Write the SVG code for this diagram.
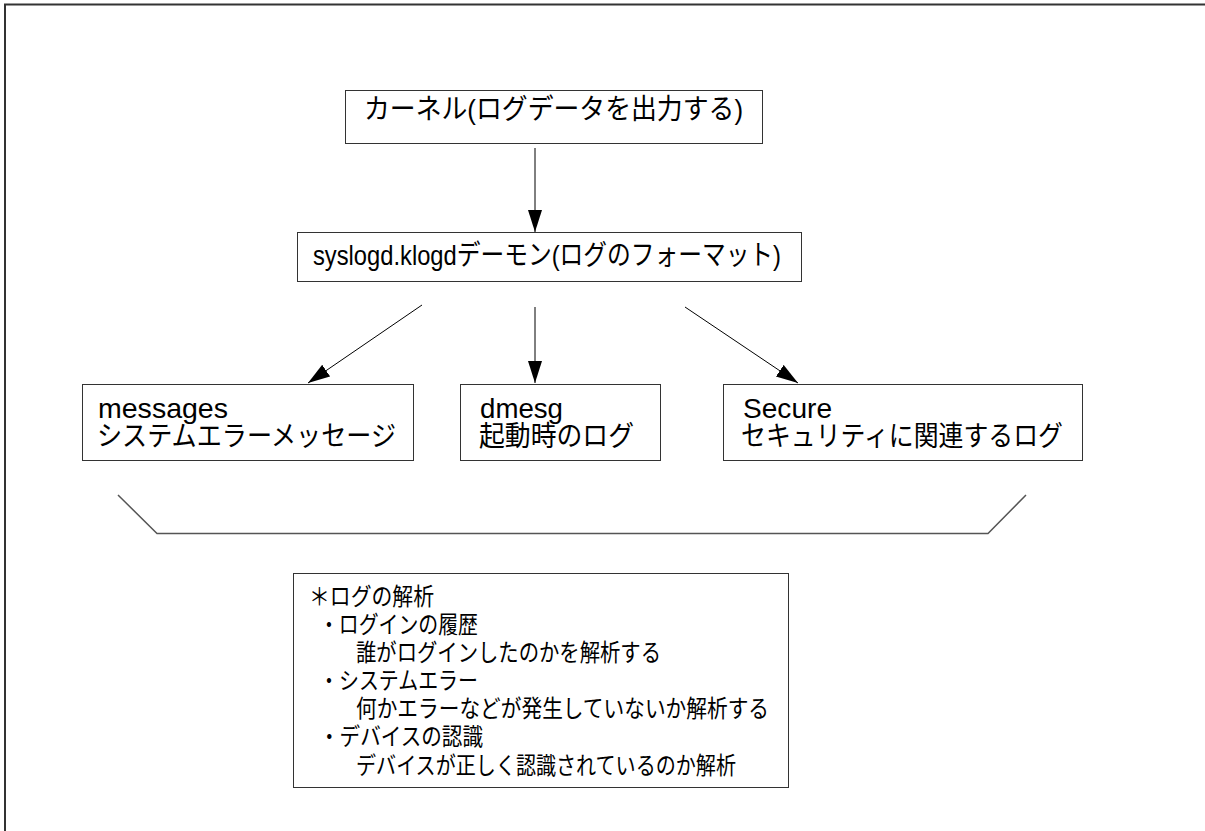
<svg xmlns="http://www.w3.org/2000/svg" width="1205" height="831" viewBox="0 0 1205 831">
<style>
.box{fill:#fff;stroke:#333;stroke-width:1}
.t{font-family:"Liberation Sans","Noto Sans CJK JP",sans-serif;font-size:28px;fill:#000}
.s{font-family:"Liberation Sans","Noto Sans CJK JP",sans-serif;font-size:24px;fill:#000}
.c{stroke:#000;stroke-width:1;fill:none}
.frame{stroke:#333;stroke-width:2;fill:none}
.br{stroke:#555;stroke-width:1.5;fill:none}
</style>
<defs>
<marker id="ah" markerUnits="userSpaceOnUse" markerWidth="23" markerHeight="15" refX="22" refY="7" orient="auto">
<path d="M0,0 L22,7 L0,14 z" fill="#000"/>
</marker>
</defs>
<rect width="1205" height="831" fill="#fff"/>
<path class="frame" d="M5,831 V4.5 H1205"/>
<g id="kernel">
<rect class="box" x="345.5" y="90.5" width="417" height="53"/>
<text class="t" x="364" y="119" textLength="379" lengthAdjust="spacingAndGlyphs">カーネル(ログデータを出力する)</text>
</g>
<g id="syslogd">
<rect class="box" x="297.5" y="232.5" width="504" height="49"/>
<text class="t" x="313" y="265" textLength="468" lengthAdjust="spacingAndGlyphs">syslogd.klogdデーモン(ログのフォーマット)</text>
</g>
<g id="messages">
<rect class="box" x="82.5" y="384.5" width="331" height="76"/>
<text class="t" x="98" y="418" textLength="130" lengthAdjust="spacingAndGlyphs">messages</text>
<text class="t" x="97" y="446" textLength="299" lengthAdjust="spacingAndGlyphs">システムエラーメッセージ</text>
</g>
<g id="dmesg">
<rect class="box" x="460.5" y="384.5" width="200" height="76"/>
<text class="t" x="480" y="418" textLength="83" lengthAdjust="spacingAndGlyphs">dmesg</text>
<text class="t" x="479" y="446" textLength="155" lengthAdjust="spacingAndGlyphs">起動時のログ</text>
</g>
<g id="secure">
<rect class="box" x="723.5" y="384.5" width="359" height="76"/>
<text class="t" x="743" y="418" textLength="89" lengthAdjust="spacingAndGlyphs">Secure</text>
<text class="t" x="741" y="446" textLength="322" lengthAdjust="spacingAndGlyphs">セキュリティに関連するログ</text>
</g>
<g id="bracket">
<path class="br" d="M118,495 L157,533.5 H988 L1026,495"/>
</g>
<g id="analysis">
<rect class="box" x="293.5" y="573.5" width="495" height="214"/>
<text class="s" x="309" y="605" textLength="125" lengthAdjust="spacingAndGlyphs">＊ログの解析</text>
<text class="s" x="319" y="633" textLength="159" lengthAdjust="spacingAndGlyphs">・ログインの履歴</text>
<text class="s" x="356" y="661" textLength="305" lengthAdjust="spacingAndGlyphs">誰がログインしたのかを解析する</text>
<text class="s" x="319" y="689" textLength="159" lengthAdjust="spacingAndGlyphs">・システムエラー</text>
<text class="s" x="356" y="717" textLength="413" lengthAdjust="spacingAndGlyphs">何かエラーなどが発生していないか解析する</text>
<text class="s" x="319" y="745" textLength="164" lengthAdjust="spacingAndGlyphs">・デバイスの認識</text>
<text class="s" x="356" y="774" textLength="380" lengthAdjust="spacingAndGlyphs">デバイスが正しく認識されているのか解析</text>
</g>
<g id="connectors">
<line class="c" x1="535" y1="148" x2="535" y2="232" marker-end="url(#ah)"/>
<line class="c" x1="422" y1="305" x2="308" y2="383" marker-end="url(#ah)"/>
<line class="c" x1="535" y1="307" x2="535" y2="383" marker-end="url(#ah)"/>
<line class="c" x1="685" y1="307" x2="798" y2="383" marker-end="url(#ah)"/>
</g>
</svg>
